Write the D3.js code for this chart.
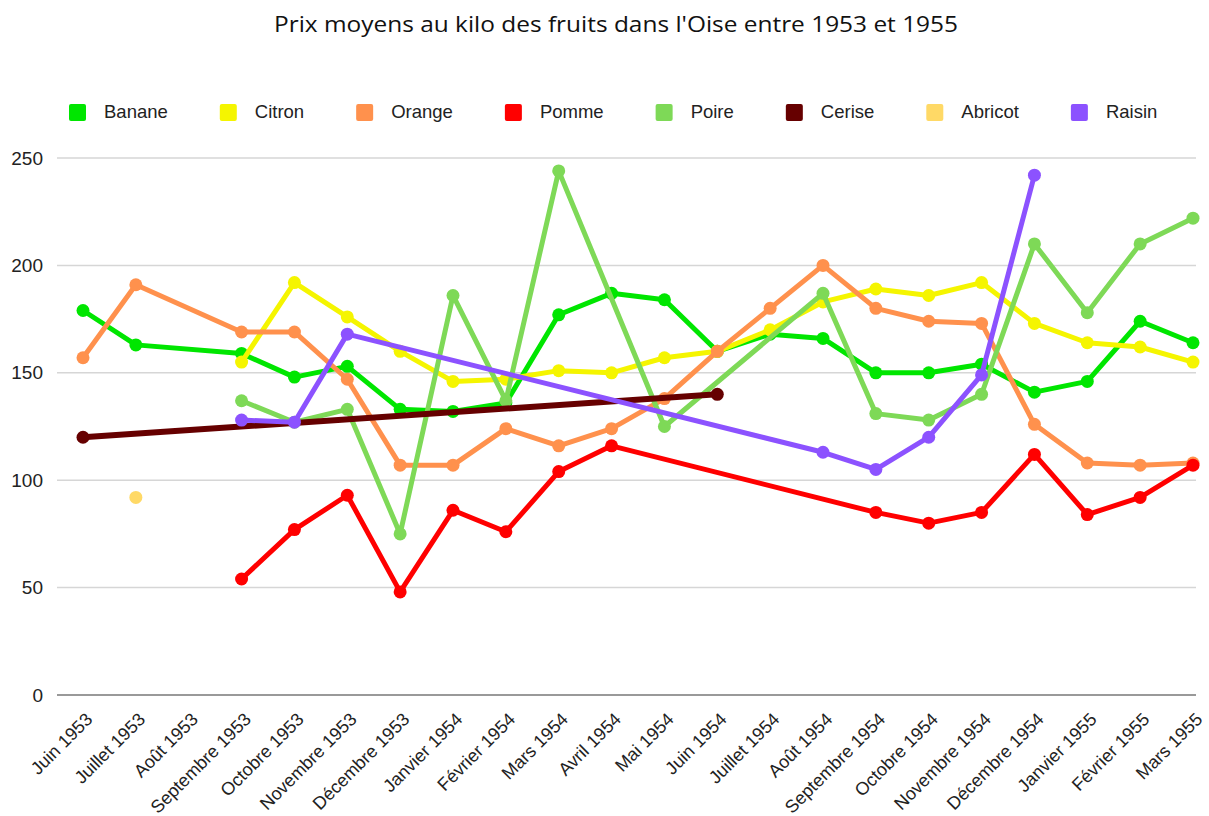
<!DOCTYPE html>
<html>
<head>
<meta charset="utf-8">
<script src="https://cdn.jsdelivr.net/npm/d3@7"></script>
<style>
  body { margin: 0; background: #fff; }
  svg { display: block; }
</style>
</head>
<body>
<svg id="chart" width="1209" height="816"></svg>
<script>
// Chart data
const months = ["Juin 1953", "Juillet 1953", "Août 1953", "Septembre 1953", "Octobre 1953",
  "Novembre 1953", "Décembre 1953", "Janvier 1954", "Février 1954", "Mars 1954", "Avril 1954",
  "Mai 1954", "Juin 1954", "Juillet 1954", "Août 1954", "Septembre 1954", "Octobre 1954",
  "Novembre 1954", "Décembre 1954", "Janvier 1955", "Février 1955", "Mars 1955"];

const banane  = [179, 163, null, 159, 148, 153, 133, 132, 136, 177, 187, 184, 160, 168, 166, 150, 150, 154, 141, 146, 174, 164];
const citron  = [null, null, null, 155, 192, 176, 160, 146, 147, 151, 150, 157, 160, 170, 183, 189, 186, 192, 173, 164, 162, 155];
const orange  = [157, 191, null, 169, 169, 147, 107, 107, 124, 116, 124, 138, 160, 180, 200, 180, 174, 173, 126, 108, 107, 108];
const pomme   = [null, null, null, 54, 77, 93, 48, 86, 76, 104, 116, null, null, null, null, 85, 80, 85, 112, 84, 92, 107];
const poire   = [null, null, null, 137, 127, 133, 75, 186, 137, 244, null, 125, null, null, 187, 131, 128, 140, 210, 178, 210, 222];
const cerise  = [120, null, null, null, null, null, null, null, null, null, null, null, 140, null, null, null, null, null, null, null, null, null];
const abricot = [null, 92, null, null, null, null, null, null, null, null, null, null, null, null, null, null, null, null, null, null, null, null];
const raisin  = [null, null, null, 128, 127, 168, null, null, null, null, null, null, null, null, 113, 105, 120, 149, 242, null, null, null];

const seriesNames = ["Banane", "Citron", "Orange", "Pomme", "Poire", "Cerise", "Abricot", "Raisin"];
const seriesValues = [banane, citron, orange, pomme, poire, cerise, abricot, raisin];
const seriesColors = ["#00e600", "#f5f500", "#ff914d", "#ff0000", "#7ed957", "#660000", "#ffd966", "#8c52ff"];
const yTicks = [0, 50, 100, 150, 200, 250];

const svg = d3.select("#chart");
const font = "'Liberation Sans', Arial, sans-serif";

// Scales
const x = d3.scalePoint().domain(months).range([83, 1193]);
const y = d3.scaleLinear().domain([0, 250]).range([695, 158]);

// Title
svg.append("text")
  .attr("x", 616).attr("y", 32)
  .attr("text-anchor", "middle")
  .attr("textLength", 684)
  .attr("lengthAdjust", "spacingAndGlyphs")
  .style("font-family", "'Open Sans', sans-serif")
  .style("font-size", "22px")
  .style("font-weight", 500)
  .attr("fill", "#111")
  .text("Prix moyens au kilo des fruits dans l'Oise entre 1953 et 1955");

// Grid lines and y labels
const yAxis = svg.append("g");
yAxis.selectAll("line")
  .data(yTicks)
  .enter().append("line")
  .attr("x1", 57).attr("x2", 1196)
  .attr("y1", d => y(d)).attr("y2", d => y(d))
  .attr("stroke", d => d === 0 ? "#999" : "#d6d6d6")
  .attr("stroke-width", d => d === 0 ? 2 : 1.5);

yAxis.selectAll("text")
  .data(yTicks)
  .enter().append("text")
  .attr("x", 43).attr("y", d => y(d))
  .attr("dy", "0.35em")
  .attr("text-anchor", "end")
  .style("font-family", font)
  .style("font-size", "19px")
  .attr("fill", "#222")
  .text(d => d);

// X labels, rotated
svg.append("g").selectAll("text")
  .data(months)
  .enter().append("text")
  .attr("transform", d => `translate(${x(d) + 6},${716}) rotate(-45)`)
  .attr("text-anchor", "end")
  .attr("dy", "0.35em")
  .style("font-family", font)
  .style("font-size", "18px")
  .attr("fill", "#222")
  .text(d => d);

// Lines and points; gaps are bridged like in the original chart
const line = d3.line()
  .x(d => x(d.m))
  .y(d => y(d.v));

seriesValues.forEach((vals, i) => {
  const pts = vals.map((v, j) => ({ m: months[j], v: v })).filter(d => d.v !== null);
  const g = svg.append("g");

  if (pts.length > 1) {
    g.append("path")
      .datum(pts)
      .attr("fill", "none")
      .attr("stroke", seriesColors[i])
      .attr("stroke-width", seriesNames[i] === "Cerise" ? 6 : 5)
      .attr("stroke-linejoin", "round")
      .attr("d", line);
  }

  g.selectAll("circle")
    .data(pts)
    .enter().append("circle")
    .attr("cx", d => x(d.m))
    .attr("cy", d => y(d.v))
    .attr("r", 6.5)
    .attr("fill", seriesColors[i]);
});

// Legend, laid out from the measured label widths
const legend = svg.append("g");
let lx = 69;
seriesNames.forEach((name, i) => {
  legend.append("rect")
    .attr("x", lx).attr("y", 104)
    .attr("width", 17).attr("height", 17)
    .attr("rx", 2)
    .attr("fill", seriesColors[i]);
  const t = legend.append("text")
    .attr("x", lx + 35).attr("y", 112)
    .attr("dy", "0.35em")
    .style("font-family", font)
    .style("font-size", "18.5px")
    .attr("fill", "#222")
    .text(name);
  lx += 35 + t.node().getComputedTextLength() + 52;
});
</script>
</body>
</html>
